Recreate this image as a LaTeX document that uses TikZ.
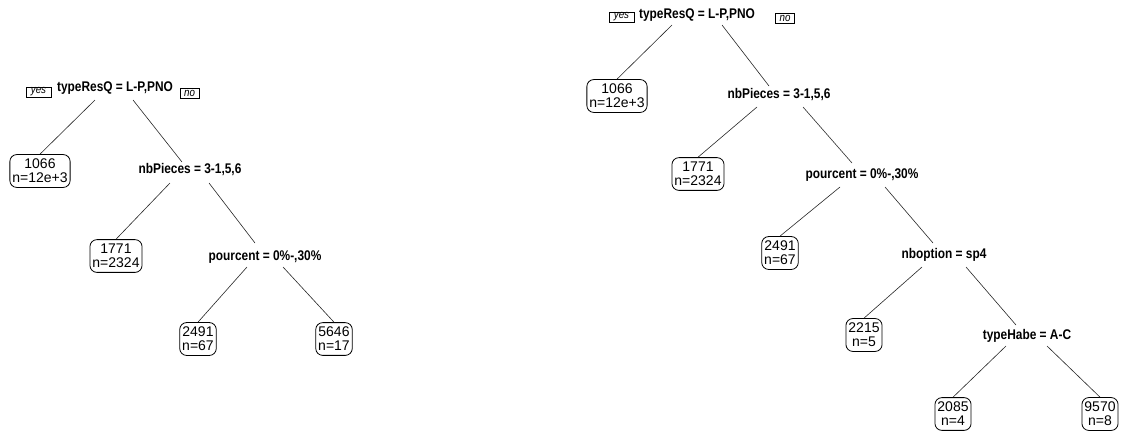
\documentclass[tikz,border=0pt]{standalone}
\usepackage{fontspec}
\setmainfont{Liberation Sans}
\newfontfamily\condfont[FakeStretch=0.85]{Liberation Sans}
\begin{document}
\begin{tikzpicture}[x=1pt,y=-1pt,
  split/.style={inner sep=0pt,font=\condfont\bfseries\fontsize{14}{14}\selectfont},
  leaf/.style={draw,line width=0.8pt,rounded corners=7pt,align=center,inner xsep=2.5pt,inner ysep=4.5pt,font=\fontsize{14}{14}\selectfont},
  tag/.style={draw,line width=0.5pt,inner sep=0pt,minimum height=10.5pt,font=\condfont\itshape\fontsize{11.5}{11.5}\selectfont},
  branch/.style={line width=0.6pt,draw=black!85}]
\useasboundingbox (0,0) rectangle (1130,434);
% left tree
\node[split] (LA) at (115,88) {typeResQ = L-P,PNO};
\node[tag,minimum width=25pt] (Lyes) at (38.5,92) {yes};
\node[tag,minimum width=19pt] (Lno) at (189.5,93) {no};
\node[leaf] (L1066) at (40,171) {1066\\n=12e+3};
\node[split] (Lnb) at (190,170) {nbPieces = 3-1,5,6};
\node[leaf] (L1771) at (116,256) {1771\\n=2324};
\node[split] (Lpc) at (265,257) {pourcent = 0\%-,30\%};
\node[leaf] (L2491) at (198,339) {2491\\n=67};
\node[leaf] (L5646) at (334,339) {5646\\n=17};
\draw[branch] ([shift={(-20pt,-12pt)}]LA.center) -- (L1066.north);
\draw[branch] ([shift={(18pt,-12pt)}]LA.center) -- ([shift={(-8pt,8pt)}]Lnb.center);
\draw[branch] ([shift={(-20pt,-13pt)}]Lnb.center) -- (L1771.north);
\draw[branch] ([shift={(19pt,-13pt)}]Lnb.center) -- ([shift={(-10pt,14pt)}]Lpc.center);
\draw[branch] ([shift={(-18pt,-10pt)}]Lpc.center) -- (L2491.north);
\draw[branch] ([shift={(18pt,-10pt)}]Lpc.center) -- (L5646.north);
% right tree
\node[split] (RA) at (697,15) {typeResQ = L-P,PNO};
\node[tag,minimum width=25pt] (Ryes) at (621.5,17) {yes};
\node[tag,minimum width=19pt] (Rno) at (785,18) {no};
\node[leaf] (R1066) at (617,96) {1066\\n=12e+3};
\node[split] (Rnb) at (779,95) {nbPieces = 3-1,5,6};
\node[leaf] (R1771) at (698,174) {1771\\n=2324};
\node[split] (Rpc) at (862,175) {pourcent = 0\%-,30\%};
\node[leaf] (R2491) at (780,253) {2491\\n=67};
\node[split] (Rnbo) at (944,255) {nboption = sp4};
\node[leaf] (R2215) at (864,335) {2215\\n=5};
\node[split] (Rth) at (1027,336) {typeHabe = A-C};
\node[leaf] (R2085) at (953,414) {2085\\n=4};
\node[leaf] (R9570) at (1100,414) {9570\\n=8};
\draw[branch] ([shift={(-25pt,-10pt)}]RA.center) -- (R1066.north);
\draw[branch] ([shift={(25pt,-10pt)}]RA.center) -- ([shift={(-10pt,9pt)}]Rnb.center);
\draw[branch] ([shift={(-22pt,-12pt)}]Rnb.center) -- (R1771.north);
\draw[branch] ([shift={(24pt,-12pt)}]Rnb.center) -- ([shift={(-10pt,12pt)}]Rpc.center);
\draw[branch] ([shift={(-22pt,-12pt)}]Rpc.center) -- (R2491.north);
\draw[branch] ([shift={(23pt,-12pt)}]Rpc.center) -- ([shift={(-11pt,12pt)}]Rnbo.center);
\draw[branch] ([shift={(-22pt,-12pt)}]Rnbo.center) -- (R2215.north);
\draw[branch] ([shift={(22pt,-12pt)}]Rnbo.center) -- ([shift={(-11pt,11pt)}]Rth.center);
\draw[branch] ([shift={(-21pt,-10pt)}]Rth.center) -- (R2085.north);
\draw[branch] ([shift={(20pt,-10pt)}]Rth.center) -- (R9570.north);
\end{tikzpicture}
\end{document}
